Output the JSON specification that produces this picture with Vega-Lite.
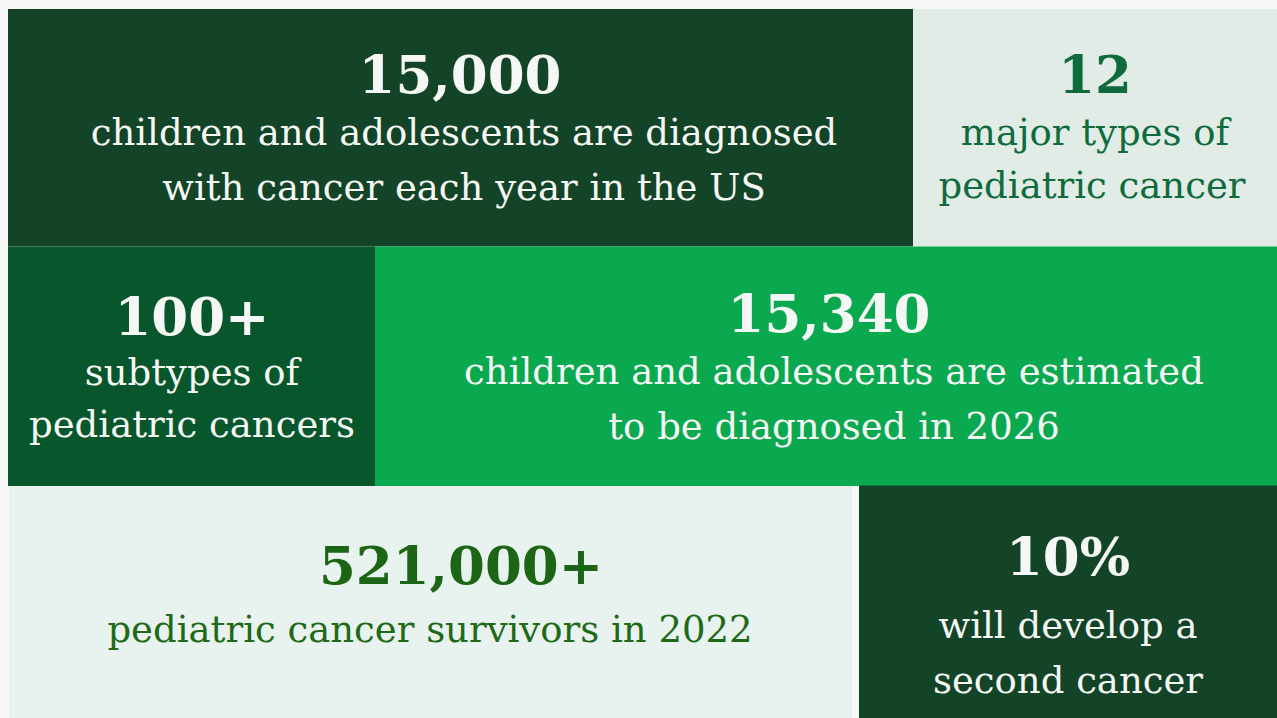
{
  "$schema": "https://vega.github.io/schema/vega-lite/v6.json",
  "width": 1277,
  "height": 718,
  "autosize": {"type": "fit", "contains": "padding"},
  "padding": 0,
  "background": "#f6f9f6",
  "config": {"view": {"stroke": null}},
  "datasets": {
    "tiles": [
      {"tile": "t1", "x0": 8, "x1": 913, "y0": 9, "y1": 246.5},
      {"tile": "t2", "x0": 913, "x1": 1277, "y0": 9, "y1": 246.5},
      {"tile": "t3", "x0": 8, "x1": 375, "y0": 246.5, "y1": 486},
      {"tile": "t4", "x0": 375, "x1": 1277, "y0": 246.5, "y1": 486},
      {"tile": "t5", "x0": 9, "x1": 852, "y0": 486, "y1": 718},
      {"tile": "t6", "x0": 859, "x1": 1277, "y0": 485.5, "y1": 718}
    ],
    "texts": [
      {"tile": "t1", "kind": "number", "text": "15,000", "cx": 460, "by": 93},
      {"tile": "t1", "kind": "label", "text": "children and adolescents are diagnosed", "cx": 464, "by": 145},
      {"tile": "t1", "kind": "label", "text": "with cancer each year in the US", "cx": 464, "by": 200},
      {"tile": "t2", "kind": "number", "text": "12", "cx": 1095, "by": 93},
      {"tile": "t2", "kind": "label", "text": "major types of", "cx": 1095, "by": 145},
      {"tile": "t2", "kind": "label", "text": "pediatric cancer", "cx": 1092, "by": 198},
      {"tile": "t3", "kind": "number", "text": "100+", "cx": 192, "by": 335},
      {"tile": "t3", "kind": "label", "text": "subtypes of", "cx": 192, "by": 385},
      {"tile": "t3", "kind": "label", "text": "pediatric cancers", "cx": 192, "by": 437},
      {"tile": "t4", "kind": "number", "text": "15,340", "cx": 829, "by": 332},
      {"tile": "t4", "kind": "label", "text": "children and adolescents are estimated", "cx": 834, "by": 384},
      {"tile": "t4", "kind": "label", "text": "to be diagnosed in 2026", "cx": 834, "by": 439},
      {"tile": "t5", "kind": "number", "text": "521,000+", "cx": 461, "by": 584},
      {"tile": "t5", "kind": "label", "text": "pediatric cancer survivors in 2022", "cx": 430, "by": 642},
      {"tile": "t6", "kind": "number", "text": "10%", "cx": 1068, "by": 575},
      {"tile": "t6", "kind": "label", "text": "will develop a", "cx": 1068, "by": 638},
      {"tile": "t6", "kind": "label", "text": "second cancer", "cx": 1068, "by": 693}
    ]
  },
  "resolve": {"scale": {"color": "independent"}},
  "layer": [
    {
      "data": {"name": "tiles"},
      "mark": {"type": "rect"},
      "encoding": {
        "x": {"field": "x0", "type": "quantitative", "scale": {"domain": [0, 1277], "nice": false, "zero": false}, "axis": null},
        "x2": {"field": "x1"},
        "y": {"field": "y0", "type": "quantitative", "scale": {"domain": [0, 718], "nice": false, "zero": false, "reverse": true}, "axis": null},
        "y2": {"field": "y1"},
        "color": {
          "field": "tile", "type": "nominal", "legend": null,
          "scale": {"domain": ["t1", "t2", "t3", "t4", "t5", "t6"], "range": ["#134427", "#e2ece7", "#07562c", "#0aa84f", "#e8f2ee", "#134427"]}
        }
      }
    },
    {
      "data": {"name": "texts"},
      "transform": [{"filter": "datum.kind === 'number'"}],
      "mark": {"type": "text", "font": "DejaVu Serif", "fontWeight": "bold", "fontSize": 53, "align": "center", "baseline": "alphabetic"},
      "encoding": {
        "x": {"field": "cx", "type": "quantitative"},
        "y": {"field": "by", "type": "quantitative"},
        "text": {"field": "text"},
        "color": {
          "field": "tile", "type": "nominal", "legend": null,
          "scale": {"domain": ["t1", "t2", "t3", "t4", "t5", "t6"], "range": ["#f4f7f3", "#0f6b3c", "#f4f7f3", "#f4f7f3", "#1b6515", "#f4f7f3"]}
        }
      }
    },
    {
      "data": {"name": "texts"},
      "transform": [{"filter": "datum.kind === 'label'"}],
      "mark": {"type": "text", "font": "DejaVu Serif", "fontSize": 37, "align": "center", "baseline": "alphabetic"},
      "encoding": {
        "x": {"field": "cx", "type": "quantitative"},
        "y": {"field": "by", "type": "quantitative"},
        "text": {"field": "text"},
        "color": {
          "field": "tile", "type": "nominal", "legend": null,
          "scale": {"domain": ["t1", "t2", "t3", "t4", "t5", "t6"], "range": ["#f4f7f3", "#0f6b3c", "#f4f7f3", "#f4f7f3", "#1e6a16", "#f4f7f3"]}
        }
      }
    }
  ]
}
